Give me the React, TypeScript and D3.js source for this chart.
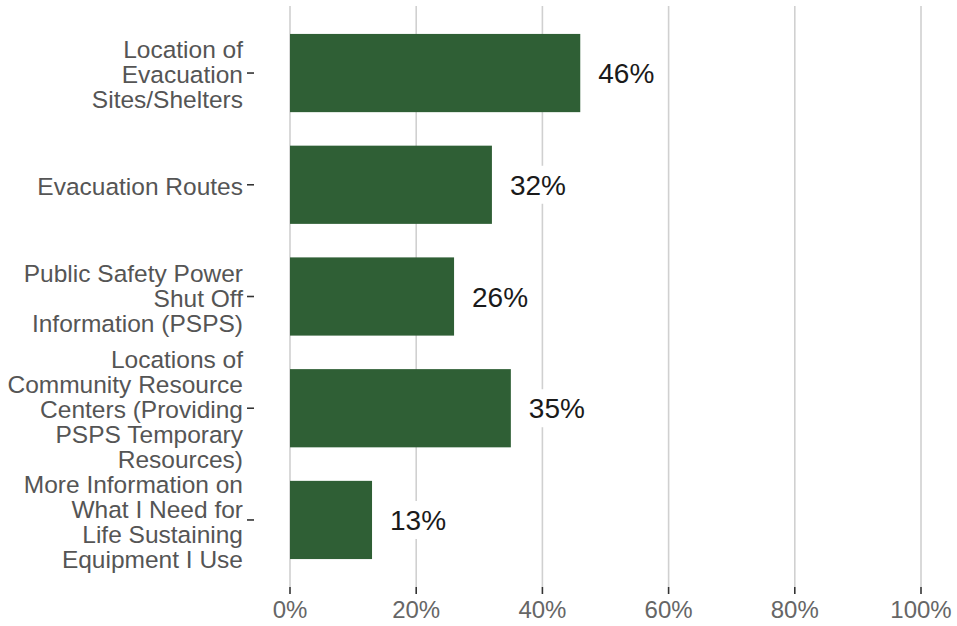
import React from "react";
import * as d3 from "d3";

const categories: string[][] = [
  ["Location of", "Evacuation", "Sites/Shelters"],
  ["Evacuation Routes"],
  ["Public Safety Power", "Shut Off", "Information (PSPS)"],
  ["Locations of", "Community Resource", "Centers (Providing", "PSPS Temporary", "Resources)"],
  ["More Information on", "What I Need for", "Life Sustaining", "Equipment I Use"],
];
const values: number[] = [0.46, 0.32, 0.26, 0.35, 0.13];
const xTicks: number[] = [0, 0.2, 0.4, 0.6, 0.8, 1.0];

const W = 957;
const H = 626;
const FONT = "'Liberation Sans', Arial, sans-serif";

export default function App() {
  const panel = { left: 290, right: 921, top: 6, bottom: 587 };
  const x = d3.scaleLinear().domain([0, 1]).range([panel.left, panel.right]);
  const idx = categories.map((_, i) => String(i));
  const y = d3.scalePoint<string>().domain(idx).range([panel.top, panel.bottom]).padding(0.6);
  const step = y.step();
  const barH = step * 0.7;
  const fmt = d3.format(".0%");
  const lineH = 25;

  return (
    <div style={{ position: "absolute", left: 0, top: 0 }}>
      <svg width={W} height={H} style={{ display: "block", background: "#fff" }}>
        {xTicks.map((t) => (
          <line key={"g" + t} x1={x(t)} x2={x(t)} y1={panel.top} y2={panel.bottom} stroke="#d0d0d0" strokeWidth={1.6} />
        ))}
        {values.map((v, i) => (
          <rect key={"b" + i} x={x(0)} y={(y(String(i)) as number) - barH / 2} width={x(v) - x(0)} height={barH} fill="#2f5f35" />
        ))}
        {values.map((v, i) => {
          const cy = y(String(i)) as number;
          const tx = x(v) + 18;
          const tw = 58;
          return (
            <g key={"l" + i}>
              <rect x={tx - 8} y={cy - 19} width={tw + 16} height={38} fill="#fff" />
              <text x={tx} y={cy} dy="0.36em" fontFamily={FONT} fontSize={28} fill="#1a1a1a">
                {fmt(v)}
              </text>
            </g>
          );
        })}
        {xTicks.map((t) => (
          <g key={"t" + t}>
            <line x1={x(t)} x2={x(t)} y1={panel.bottom} y2={panel.bottom + 7} stroke="#333" strokeWidth={1.6} />
            <text x={x(t)} y={609} dy="0.36em" textAnchor="middle" fontFamily={FONT} fontSize={24} fill="#666">
              {fmt(t)}
            </text>
          </g>
        ))}
        {categories.map((lines, i) => {
          const cy = y(String(i)) as number;
          const n = lines.length;
          return (
            <g key={"c" + i}>
              <line x1={247} x2={254} y1={cy} y2={cy} stroke="#333" strokeWidth={1.6} />
              {lines.map((ln, j) => (
                <text
                  key={j}
                  x={243}
                  y={cy + 1.5 + (j - (n - 1) / 2) * lineH}
                  dy="0.35em"
                  textAnchor="end"
                  fontFamily={FONT}
                  fontSize={24.5}
                  fill="#555"
                >
                  {ln}
                </text>
              ))}
            </g>
          );
        })}
      </svg>
    </div>
  );
}
